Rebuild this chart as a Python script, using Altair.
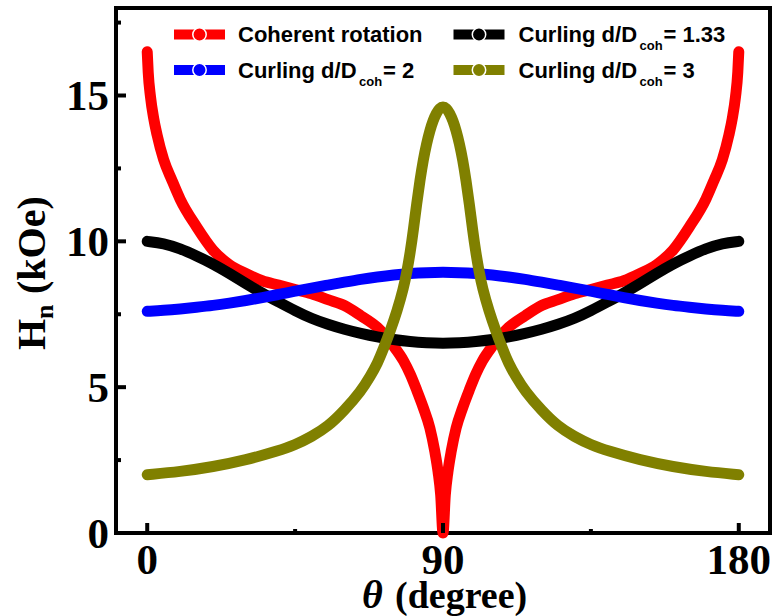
import altair as alt
import pandas as pd

# ---------------- data ----------------
red_theta = [0, 0.3, 1, 2, 3, 5, 7.5, 10, 15, 20, 25, 30, 35, 40, 45, 50, 55, 60, 65, 70,
             75, 78, 80, 82, 84, 86, 87.5, 88.5, 89.3, 90, 90.7, 91.5, 92.5, 94, 96, 98,
             100, 102, 105, 110, 115, 120, 125, 130, 135, 140, 145, 150, 155, 160, 165,
             170, 172.5, 175, 177, 178, 179, 179.7, 180]
red_H = [16.5, 15.8, 14.95, 14.2, 13.65, 12.8, 12.1, 11.45, 10.5, 9.7, 9.2, 8.9, 8.65, 8.5,
         8.35, 8.2, 8.0, 7.8, 7.45, 7.05, 6.4, 5.9, 5.45, 4.9, 4.3, 3.6, 2.8, 2.1, 1.3, 0.0,
         1.3, 2.1, 2.8, 3.6, 4.3, 4.9, 5.45, 5.9, 6.4, 7.05, 7.45, 7.8, 8.0, 8.2, 8.35, 8.5,
         8.65, 8.9, 9.2, 9.7, 10.5, 11.45, 12.1, 12.8, 13.65, 14.2, 14.95, 15.8, 16.5]

curl_theta = [0, 5, 10, 15, 20, 25, 30, 35, 40, 45, 50, 55, 60, 65, 70, 75, 80, 85, 90,
              95, 100, 105, 110, 115, 120, 125, 130, 135, 140, 145, 150, 155, 160, 165,
              170, 175, 180]
black_H = [10.0, 9.93, 9.75, 9.5, 9.23, 8.9, 8.55, 8.22, 7.92, 7.62, 7.35, 7.15, 6.98, 6.84,
           6.72, 6.63, 6.56, 6.52, 6.5, 6.52, 6.56, 6.63, 6.72, 6.84, 6.98, 7.15, 7.35, 7.62,
           7.92, 8.22, 8.55, 8.9, 9.23, 9.5, 9.75, 9.93, 10.0]
blue_H = [7.6, 7.63, 7.68, 7.74, 7.8, 7.88, 7.97, 8.07, 8.18, 8.29, 8.4, 8.5, 8.6, 8.7, 8.78,
          8.85, 8.9, 8.93, 8.94, 8.93, 8.9, 8.85, 8.78, 8.7, 8.6, 8.5, 8.4, 8.29, 8.18, 8.07,
          7.97, 7.88, 7.8, 7.74, 7.68, 7.63, 7.6]

olive_theta = [0, 10, 20, 30, 40, 45, 50, 55, 60, 65, 68, 70, 72, 74, 76, 78, 79, 80, 81, 82,
               83, 84, 85, 86, 87, 88, 89, 90, 91, 92, 93, 94, 95, 96, 97, 98, 99, 100, 101,
               102, 104, 106, 108, 110, 112, 115, 120, 125, 130, 135, 140, 150, 160, 170, 180]
olive_H = [2.0, 2.1, 2.27, 2.5, 2.82, 3.02, 3.3, 3.65, 4.2, 4.85, 5.4, 5.8, 6.35, 6.95, 7.6,
           8.4, 8.95, 9.6, 10.4, 11.3, 12.1, 12.8, 13.35, 13.8, 14.15, 14.4, 14.57, 14.62,
           14.57, 14.4, 14.15, 13.8, 13.35, 12.8, 12.1, 11.3, 10.4, 9.6, 8.95, 8.4, 7.6, 6.95,
           6.35, 5.8, 5.4, 4.85, 4.2, 3.65, 3.3, 3.02, 2.82, 2.5, 2.27, 2.1, 2.0]

series_names = ["Coherent rotation", "Curling d/D", "Curling d/D", "Curling d/D"]
series_subs = ["", "coh", "coh", "coh"]
series_suffix = ["", "= 1.33", "= 2", "= 3"]
series_colors = ["#ff0000", "#000000", "#0000ff", "#808000"]
legend_col = [0, 1, 0, 1]
legend_row = [0, 0, 1, 1]

x_major = [0, 90, 180]
x_minor = [45, 135]
y_major = [0, 5, 10, 15]
y_minor = [2.5, 7.5, 12.5, 17.5]

# ---------------- layout ----------------
W, H = 654, 525
xscale = alt.Scale(domain=[-9.5, 189.5], nice=False, zero=False)
yscale = alt.Scale(domain=[0, 18], nice=False, zero=False)
TICK_FONT = 43


def line_layer(theta, vals, color, interp):
    df = pd.DataFrame({"theta": theta, "H": vals})
    return alt.Chart(df).mark_line(
        color=color, strokeWidth=11, strokeCap="round", strokeJoin="round",
        interpolate=interp
    ).encode(
        x=alt.X("theta:Q", scale=xscale, axis=None),
        y=alt.Y("H:Q", scale=yscale, axis=None),
    )


lines = [
    line_layer(red_theta, red_H, series_colors[0], "monotone"),
    line_layer(curl_theta, black_H, series_colors[1], "basis"),
    line_layer(curl_theta, blue_H, series_colors[2], "basis"),
    line_layer(olive_theta, olive_H, series_colors[3], "basis"),
]


# inward ticks
def xticks(vals, length):
    return alt.Chart(pd.DataFrame({"t": vals})).mark_rule(color="black", strokeWidth=4).encode(
        x=alt.X("t:Q", scale=xscale, axis=None), y=alt.value(H), y2=alt.value(H - length))


def yticks(vals, length):
    return alt.Chart(pd.DataFrame({"t": vals})).mark_rule(color="black", strokeWidth=4).encode(
        y=alt.Y("t:Q", scale=yscale, axis=None), x=alt.value(0), x2=alt.value(length))


ticks = [xticks(x_major, 10), xticks(x_minor, 4), yticks(y_major, 10), yticks(y_minor, 5)]

# tick labels
lab_style = dict(font="Liberation Serif", fontWeight="bold", fontSize=TICK_FONT,
                 color="black", baseline="alphabetic")
xlab = alt.Chart(pd.DataFrame({"t": x_major})).mark_text(align="center", **lab_style).encode(
    x=alt.X("t:Q", scale=xscale, axis=None), y=alt.value(H + 41), text="t:N")
ylab = alt.Chart(pd.DataFrame({"t": y_major})).mark_text(align="right", dy=14.5, **lab_style).encode(
    y=alt.Y("t:Q", scale=yscale, axis=None), x=alt.value(-7), text="t:N")

# legend (manual, to allow subscripts)
leg = pd.DataFrame({"name": series_names, "sub": series_subs, "suf": series_suffix,
                    "color": series_colors, "col": legend_col, "row": legend_row})
leg["sx"] = 83.5 + leg["col"] * 279.5
leg["sy"] = 26.5 + leg["row"] * 35.5
leg["sx1"] = leg["sx"] - 25.5
leg["sx2"] = leg["sx"] + 25.5
leg["tx"] = 122 + leg["col"] * 280.5
leg["ty"] = 34 + leg["row"] * 35.5
leg["subx"] = leg["tx"] + 121
leg["suby"] = leg["ty"] + 8
leg["sufx"] = leg["tx"] + 145

px = lambda f: alt.X(f + ":Q", scale=None, axis=None)
py = lambda f: alt.Y(f + ":Q", scale=None, axis=None)
lbase = alt.Chart(leg)
leg_rect = lbase.mark_rule(strokeWidth=10, strokeCap="butt").encode(
    x=px("sx1"), x2="sx2:Q", y=py("sy"), color=alt.Color("color:N", scale=None))
leg_dot = lbase.mark_circle(size=180, opacity=1, stroke="white", strokeWidth=1.5).encode(
    x=px("sx"), y=py("sy"), color=alt.Color("color:N", scale=None))
tstyle = dict(font="Liberation Sans", fontWeight="bold", align="left",
              baseline="alphabetic", color="black")
leg_t1 = lbase.mark_text(fontSize=22, **tstyle).encode(x=px("tx"), y=py("ty"), text="name:N")
leg_t2 = lbase.mark_text(fontSize=13, **tstyle).encode(x=px("subx"), y=py("suby"), text="sub:N")
leg_t3 = lbase.mark_text(fontSize=22, **tstyle).encode(x=px("sufx"), y=py("ty"), text="suf:N")


# axis titles (manual, for subscript / italic theta)
def label(txt, x, y, size, angle=0, style="normal"):
    return alt.Chart(pd.DataFrame({"s": [txt]})).mark_text(
        font="Liberation Serif", fontWeight="bold", fontStyle=style, fontSize=size,
        align="left", baseline="alphabetic", angle=angle, color="black"
    ).encode(x=alt.value(x), y=alt.value(y), text="s:N")


titles = [
    label("H", -71, 342, 40, angle=270),
    label("n", -63, 311, 26, angle=270),
    label("(kOe)", -71, 286, 40, angle=270),
    label("\u03b8", 246, 600, 40, style="italic"),
    label("(degree)", 279, 600, 38),
]

chart = alt.layer(*lines, *ticks, xlab, ylab, leg_rect, leg_dot, leg_t1, leg_t2, leg_t3,
                  *titles).properties(
    width=W, height=H,
    autosize=alt.AutoSizeParams(type="none"),
    padding={"left": 116, "top": 8, "right": 4, "bottom": 83},
).configure_view(stroke="black", strokeWidth=4)

chart.save("out.html", embed_options={"renderer": "svg", "actions": False})
